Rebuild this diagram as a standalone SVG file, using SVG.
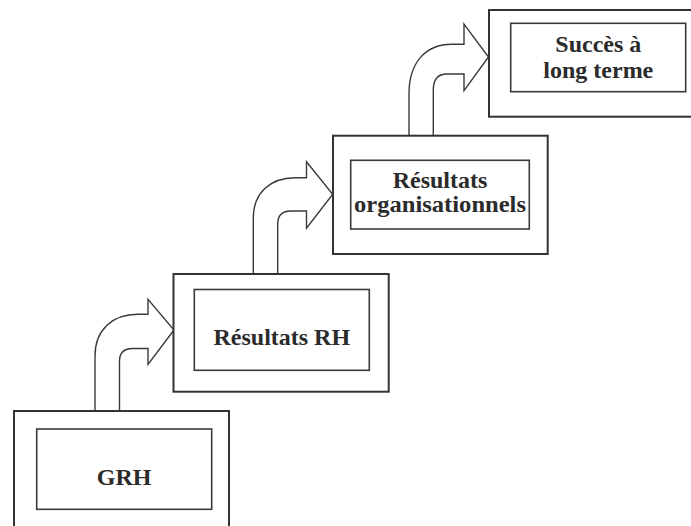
<svg xmlns="http://www.w3.org/2000/svg" width="691" height="526" viewBox="0 0 691 526">
  <style>
    .outer { fill: #ffffff; stroke: #333333; stroke-width: 2; }
    .inner { fill: #ffffff; stroke: #3a3a3a; stroke-width: 1.6; }
    .arrow { fill: #ffffff; stroke: #3a3a3a; stroke-width: 1.4; stroke-linejoin: miter; }
    .label { font-family: "Liberation Serif", "Times New Roman", serif; font-weight: bold; font-size: 24px; fill: #2b2b2b; text-anchor: middle; }
  </style>
  <rect width="691" height="526" fill="#ffffff"/>

  <!-- curved block arrows leading up the staircase -->
  <g id="connectors">
    <path class="arrow" d="M95,411 L95,356 C95,330 112,314.3 138,314.3 L148,314.3 L148,299.3 L174,330 L148,364.3 L148,348.5 L133,348.5 C124,348.5 119.5,353 119.5,361 L119.5,411"/>
    <path class="arrow" d="M253.3,274 L253.3,218 C253.3,193 270,177.7 295,177.7 L306.5,177.7 L306.5,161.7 L332.7,194.3 L306.5,228.3 L306.5,211 L291,211 C282,211 277.7,216 277.7,224 L277.7,274"/>
    <path class="arrow" d="M409,135.7 L409,94 C409,62 426,44.3 452,44.3 L464,44.3 L464,24 L488.5,57 L464,90.7 L464,74 L447,74 C438,74 433.3,80 433.3,90 L433.3,135.7"/>
  </g>

  <g id="node-grh">
    <rect class="outer" x="14" y="411" width="215" height="125"/>
    <rect class="inner" x="36.7" y="429" width="175" height="80.3"/>
    <text class="label" x="124.2" y="485">GRH</text>
  </g>

  <g id="node-resultats-rh">
    <rect class="outer" x="173.5" y="274" width="215.2" height="117.7"/>
    <rect class="inner" x="194.3" y="289.5" width="175" height="80.8"/>
    <text class="label" x="281.8" y="345">Résultats RH</text>
  </g>

  <g id="node-resultats-org">
    <rect class="outer" x="333" y="135.7" width="214.7" height="118.3"/>
    <rect class="inner" x="350.7" y="160.3" width="178.6" height="68.7"/>
    <text class="label" x="440" y="188">Résultats</text>
    <text class="label" x="440" y="212" textLength="172" lengthAdjust="spacingAndGlyphs">organisationnels</text>
  </g>

  <g id="node-succes">
    <rect class="outer" x="489" y="10" width="210" height="106.7"/>
    <rect class="inner" x="510.7" y="23.3" width="175" height="68.4"/>
    <text class="label" x="598.3" y="52">Succès à</text>
    <text class="label" x="598.3" y="78">long terme</text>
  </g>
</svg>
